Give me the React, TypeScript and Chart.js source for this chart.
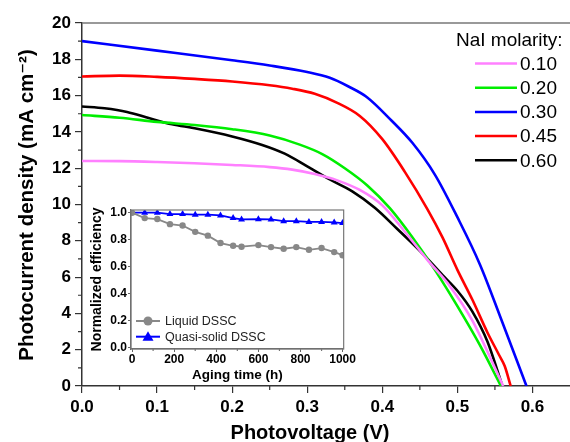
import React, { useEffect, useRef } from 'react';
import { Chart, registerables } from 'chart.js';

Chart.register(...registerables);

const FONT = "Arial, 'Liberation Sans', 'DejaVu Sans', sans-serif";

// ---- Main J-V curves ----
const SERIES_LABELS = ['0.10', '0.20', '0.30', '0.45', '0.60'];
const SERIES_COLORS = ['#ff80ff', '#00ee00', '#0000ff', '#ff0000', '#000000'];
const LEGEND_TITLE = 'NaI molarity:';

const V_010 = [0, 0.05, 0.1, 0.15, 0.2, 0.25, 0.28, 0.31, 0.34, 0.37, 0.4, 0.43, 0.46, 0.49, 0.52, 0.545, 0.561];
const J_010 = [12.4, 12.39, 12.34, 12.27, 12.18, 12.06, 11.92, 11.68, 11.33, 10.8, 9.95, 8.5, 6.95, 5.5, 3.6, 1.45, 0];

const V_020 = [0, 0.05, 0.1, 0.15, 0.2, 0.25, 0.29, 0.32, 0.35, 0.38, 0.41, 0.44, 0.47, 0.5, 0.53, 0.558];
const J_020 = [14.93, 14.78, 14.55, 14.38, 14.15, 13.8, 13.3, 12.78, 12.0, 11.05, 9.8, 8.2, 6.4, 4.4, 2.25, 0];

const V_030 = [0, 0.1, 0.2, 0.25, 0.3, 0.33, 0.355, 0.38, 0.41, 0.44, 0.47, 0.5, 0.53, 0.56, 0.592];
const J_030 = [19.0, 18.48, 17.95, 17.66, 17.3, 16.98, 16.5, 15.9, 14.72, 13.4, 11.65, 9.3, 6.7, 3.5, 0];

const V_045 = [0, 0.05, 0.1, 0.15, 0.2, 0.25, 0.28, 0.31, 0.34, 0.37, 0.4, 0.43, 0.46, 0.48, 0.5, 0.52, 0.54, 0.555, 0.563, 0.571];
const J_045 = [17.05, 17.1, 17.03, 16.92, 16.78, 16.57, 16.38, 16.1, 15.6, 14.88, 13.6, 11.8, 9.75, 8.2, 6.4, 4.75, 2.95, 1.75, 1.1, 0];

const V_060 = [0, 0.03, 0.06, 0.09, 0.12, 0.15, 0.2, 0.24, 0.27, 0.3, 0.33, 0.36, 0.39, 0.42, 0.45, 0.48, 0.5, 0.52, 0.54, 0.56];
const J_060 = [15.4, 15.3, 15.1, 14.75, 14.42, 14.2, 13.75, 13.28, 12.8, 12.1, 11.38, 10.72, 9.82, 8.65, 7.45, 6.12, 5.25, 4.1, 2.45, 0];

const SERIES_V = [V_010, V_020, V_030, V_045, V_060];
const SERIES_J = [J_010, J_020, J_030, J_045, J_060];

const X_TICKS = [0, 0.1, 0.2, 0.3, 0.4, 0.5, 0.6];
const X_MINOR = [0.05, 0.15, 0.25, 0.35, 0.45, 0.55];
const Y_TICKS = [0, 2, 4, 6, 8, 10, 12, 14, 16, 18, 20];
const Y_MINOR = [1, 3, 5, 7, 9, 11, 13, 15, 17, 19];

const X_TITLE = 'Photovoltage (V)';
const Y_TITLE = 'Photocurrent density (mA cm⁻²)';

// ---- Inset stability ----
const AGING_HOURS = [0, 60, 120, 180, 240, 300, 360, 420, 480, 520, 600, 660, 720, 780, 840, 900, 960, 1000];
const LIQUID_EFF = [1.0, 0.96, 0.953, 0.915, 0.905, 0.858, 0.83, 0.775, 0.755, 0.748, 0.76, 0.745, 0.733, 0.745, 0.725, 0.738, 0.708, 0.685];
const QUASI_EFF = [1.0, 1.0, 1.0, 0.99, 0.99, 0.985, 0.985, 0.98, 0.96, 0.95, 0.952, 0.95, 0.937, 0.937, 0.932, 0.932, 0.928, 0.923];
const INSET_LABELS = ['Liquid DSSC', 'Quasi-solid DSSC'];
const INSET_COLORS = ['#888888', '#0000ff'];
const INSET_X_TICKS = [0, 200, 400, 600, 800, 1000];
const INSET_X_MINOR = [100, 300, 500, 700, 900];
const INSET_Y_TICKS = [0, 0.2, 0.4, 0.6, 0.8, 1.0];
const INSET_X_TITLE = 'Aging time (h)';
const INSET_Y_TITLE = 'Normalized efficiency';

export default function App() {
  const mainRef = useRef<HTMLCanvasElement>(null);
  const insetRef = useRef<HTMLCanvasElement>(null);

  useEffect(() => {
    const mainCtx = mainRef.current!.getContext('2d')!;
    const insetCtx = insetRef.current!.getContext('2d')!;

    const mainDecor = {
      id: 'mainDecor',
      afterDraw(chart: any) {
        const { ctx, chartArea } = chart;
        const xs = chart.scales.x;
        const ys = chart.scales.y;
        ctx.save();
        // top frame
        ctx.strokeStyle = '#777';
        ctx.lineWidth = 1.5;
        ctx.beginPath();
        ctx.moveTo(chartArea.left, chartArea.top);
        ctx.lineTo(chartArea.right, chartArea.top);
        ctx.stroke();
        // minor ticks
        ctx.strokeStyle = '#333';
        ctx.lineWidth = 1.2;
        ctx.beginPath();
        Y_MINOR.forEach((v) => {
          const y = ys.getPixelForValue(v);
          ctx.moveTo(chartArea.left - 4, y);
          ctx.lineTo(chartArea.left, y);
        });
        X_MINOR.forEach((v) => {
          const x = xs.getPixelForValue(v);
          ctx.moveTo(x, chartArea.bottom);
          ctx.lineTo(x, chartArea.bottom + 4);
        });
        ctx.stroke();
        // axis titles
        ctx.fillStyle = '#000';
        ctx.textAlign = 'center';
        ctx.textBaseline = 'middle';
        ctx.font = `bold 20px ${FONT}`;
        ctx.fillText(X_TITLE, 310, 433);
        ctx.save();
        ctx.translate(27, 205);
        ctx.rotate(-Math.PI / 2);
        ctx.font = `bold 20.5px ${FONT}`;
        ctx.fillText(Y_TITLE, 0, 0);
        ctx.restore();
        // legend
        ctx.font = `19px ${FONT}`;
        ctx.fillStyle = '#000';
        ctx.textBaseline = 'middle';
        ctx.textAlign = 'left';
        ctx.fillText(LEGEND_TITLE, 456, 41);
        chart.data.datasets.forEach((ds: any, i: number) => {
          const y = 63.5 + i * 24.2;
          ctx.strokeStyle = ds.borderColor;
          ctx.lineWidth = 2.5;
          ctx.beginPath();
          ctx.moveTo(475, y);
          ctx.lineTo(517, y);
          ctx.stroke();
          ctx.fillText(ds.label, 520, y + 1);
        });
        ctx.restore();
      },
    };

    const main = new Chart(mainCtx, {
      type: 'line',
      data: {
        datasets: SERIES_LABELS.map((label, i) => ({
          label,
          data: SERIES_V[i].map((v, k) => ({ x: v, y: SERIES_J[i][k] })),
          borderColor: SERIES_COLORS[i],
          backgroundColor: SERIES_COLORS[i],
          borderWidth: 2.6,
          pointRadius: 0,
          fill: false,
          cubicInterpolationMode: 'monotone' as const,
        })),
      },
      options: {
        animation: false,
        responsive: false,
        devicePixelRatio: 1,
        events: [],
        layout: { padding: { top: 23, right: 0, left: 0, bottom: 0 } },
        plugins: { legend: { display: false }, tooltip: { enabled: false } },
        scales: {
          x: {
            type: 'linear',
            min: 0,
            max: 0.65,
            afterFit(s: any) { s.height = 56; },
            afterBuildTicks(s: any) { s.ticks = X_TICKS.map((v) => ({ value: v })); },
            ticks: {
              font: { family: FONT, size: 17, weight: 'bold' },
              color: '#000',
              padding: 4,
              maxRotation: 0,
              autoSkip: false,
              callback: (v: any) => Number(v).toFixed(1),
            },
            grid: { drawOnChartArea: false, drawTicks: true, tickLength: 7, color: '#333', lineWidth: 1.2 },
            border: { color: '#333', width: 1.5 },
            title: { display: false },
          },
          y: {
            type: 'linear',
            min: 0,
            max: 20,
            afterFit(s: any) { s.width = 82; },
            afterBuildTicks(s: any) { s.ticks = Y_TICKS.map((v) => ({ value: v })); },
            ticks: {
              font: { family: FONT, size: 17, weight: 'bold' },
              color: '#000',
              padding: 4,
              autoSkip: false,
              callback: (v: any) => String(v),
            },
            grid: { drawOnChartArea: false, drawTicks: true, tickLength: 7, color: '#333', lineWidth: 1.2 },
            border: { color: '#333', width: 1.5 },
            title: { display: false },
          },
        },
      },
      plugins: [mainDecor],
    } as any);

    const insetDecor = {
      id: 'insetDecor',
      afterDraw(chart: any) {
        const { ctx, chartArea } = chart;
        const xs = chart.scales.x;
        ctx.save();
        ctx.strokeStyle = '#777';
        ctx.lineWidth = 1.2;
        ctx.strokeRect(chartArea.left, chartArea.top, chartArea.right - chartArea.left, chartArea.bottom - chartArea.top);
        ctx.beginPath();
        INSET_X_MINOR.forEach((v) => {
          const x = xs.getPixelForValue(v);
          ctx.moveTo(x, chartArea.bottom);
          ctx.lineTo(x, chartArea.bottom + 2);
        });
        ctx.stroke();
        // legend
        ctx.font = `12.5px ${FONT}`;
        ctx.textBaseline = 'middle';
        ctx.textAlign = 'left';
        chart.data.datasets.forEach((ds: any, i: number) => {
          const y = 121 + i * 15.7;
          ctx.strokeStyle = ds.borderColor;
          ctx.fillStyle = ds.borderColor;
          ctx.lineWidth = 2;
          ctx.beginPath();
          ctx.moveTo(50, y);
          ctx.lineTo(74, y);
          ctx.stroke();
          ctx.beginPath();
          if (i === 0) {
            ctx.arc(62, y, 4.5, 0, Math.PI * 2);
          } else {
            ctx.moveTo(62, y - 5.5);
            ctx.lineTo(67.5, y + 4);
            ctx.lineTo(56.5, y + 4);
            ctx.closePath();
          }
          ctx.fill();
          ctx.fillStyle = '#222';
          ctx.fillText(ds.label, 79, y + 0.5);
        });
        ctx.restore();
      },
    };

    const inset = new Chart(insetCtx, {
      type: 'line',
      data: {
        datasets: [
          {
            label: INSET_LABELS[0],
            data: AGING_HOURS.map((h, k) => ({ x: h, y: LIQUID_EFF[k] })),
            borderColor: INSET_COLORS[0],
            backgroundColor: INSET_COLORS[0],
            borderWidth: 1.8,
            pointStyle: 'circle',
            pointRadius: 3.2,
            pointBorderWidth: 0,
            tension: 0,
          },
          {
            label: INSET_LABELS[1],
            data: AGING_HOURS.map((h, k) => ({ x: h, y: QUASI_EFF[k] })),
            borderColor: INSET_COLORS[1],
            backgroundColor: INSET_COLORS[1],
            borderWidth: 1.8,
            pointStyle: 'triangle',
            pointRadius: 4,
            pointBorderWidth: 0,
            tension: 0,
          },
        ],
      },
      options: {
        animation: false,
        responsive: false,
        devicePixelRatio: 1,
        events: [],
        layout: { padding: { top: 10, right: 7, left: 0, bottom: 0 } },
        plugins: { legend: { display: false }, tooltip: { enabled: false } },
        scales: {
          x: {
            type: 'linear',
            min: -5,
            max: 1005,
            afterFit(s: any) { s.height = 37; },
            afterBuildTicks(s: any) { s.ticks = INSET_X_TICKS.map((v) => ({ value: v })); },
            ticks: {
              font: { family: FONT, size: 12, weight: 'bold' },
              color: '#000',
              padding: 0,
              maxRotation: 0,
              autoSkip: false,
              callback: (v: any) => String(v),
            },
            grid: { drawOnChartArea: false, drawTicks: true, tickLength: 3, color: '#666' },
            border: { color: '#666', width: 1.2 },
            title: {
              display: true,
              text: INSET_X_TITLE,
              color: '#000',
              font: { family: FONT, size: 13.5, weight: 'bold', lineHeight: 1 },
              padding: { top: 0, bottom: 4 },
            },
          },
          y: {
            type: 'linear',
            min: -0.01,
            max: 1.02,
            afterFit(s: any) { s.width = 45; },
            afterBuildTicks(s: any) { s.ticks = INSET_Y_TICKS.map((v) => ({ value: v })); },
            ticks: {
              font: { family: FONT, size: 12, weight: 'bold' },
              color: '#000',
              padding: 1,
              autoSkip: false,
              callback: (v: any) => Number(v).toFixed(1),
            },
            grid: { drawOnChartArea: false, drawTicks: true, tickLength: 3, color: '#666' },
            border: { color: '#666', width: 1.2 },
            title: {
              display: true,
              text: INSET_Y_TITLE,
              color: '#000',
              font: { family: FONT, size: 14, weight: 'bold', lineHeight: 1 },
              padding: { top: 4, bottom: 0 },
            },
          },
        },
      },
      plugins: [insetDecor],
    } as any);

    return () => {
      main.destroy();
      inset.destroy();
    };
  }, []);

  return (
    <div style={{ position: 'fixed', left: 0, top: 0, width: 570, height: 442, background: '#fff', overflow: 'hidden' }}>
      <canvas ref={mainRef} width={570} height={442} style={{ position: 'absolute', left: 0, top: 0 }} />
      <canvas ref={insetRef} width={270} height={186} style={{ position: 'absolute', left: 86, top: 200 }} />
    </div>
  );
}
